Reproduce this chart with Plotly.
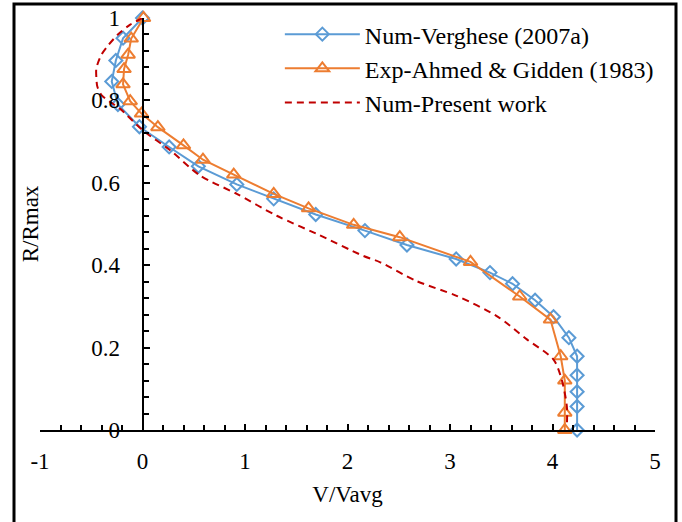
import plotly.graph_objects as go

# Num-Verghese (2007a)
verg_v = [0, -0.19, -0.26, -0.30, -0.24, -0.03, 0.26, 0.545, 0.92, 1.28, 1.69, 2.17, 2.58,
          3.06, 3.39, 3.61, 3.83, 4.01, 4.16, 4.24, 4.24, 4.24, 4.24, 4.24]
verg_r = [1.0, 0.951, 0.897, 0.846, 0.79, 0.736, 0.687, 0.640, 0.596, 0.561, 0.523, 0.484, 0.449,
          0.415, 0.382, 0.355, 0.315, 0.275, 0.224, 0.179, 0.133, 0.093, 0.057, 0.0]

# Exp-Ahmed & Gidden (1983)
exp_v = [0.01, -0.11, -0.14, -0.18, -0.19, -0.12, -0.01, 0.15, 0.40, 0.59, 0.89, 1.28, 1.62,
         2.06, 2.51, 3.20, 3.68, 3.98, 4.08, 4.12, 4.12, 4.12]
exp_r = [1.0, 0.95, 0.911, 0.876, 0.839, 0.798, 0.768, 0.735, 0.691, 0.656, 0.620, 0.573, 0.538,
         0.498, 0.468, 0.408, 0.324, 0.268, 0.179, 0.120, 0.042, 0.0]

# Num-Present work
pres_v = [0, -0.12, -0.24, -0.33, -0.40, -0.45, -0.45, -0.44, -0.40, -0.32, -0.22, 0.0, 0.27,
          0.56, 0.92, 1.31, 1.70, 2.15, 2.32, 2.67, 3.07, 3.46, 3.75, 4.01, 4.09, 4.14, 4.14]
pres_r = [1.0, 0.984, 0.96, 0.935, 0.911, 0.878, 0.854, 0.833, 0.813, 0.797, 0.780, 0.728, 0.679,
          0.618, 0.573, 0.520, 0.476, 0.423, 0.407, 0.362, 0.325, 0.276, 0.220, 0.171, 0.122, 0.057, 0.008]

x_ticks = [-1, 0, 1, 2, 3, 4, 5]
x_tick_text = ["-1", "0", "1", "2", "3", "4", "5"]
y_ticks = [0, 0.2, 0.4, 0.6, 0.8, 1]
y_tick_text = ["0", "0.2", "0.4", "0.6", "0.8", "1"]

FONT = "Liberation Serif"
BLUE = "#5B9BD5"
ORANGE = "#ED7D31"
RED = "#C00000"

fig = go.Figure()
fig.add_trace(go.Scatter(
    x=verg_v, y=verg_r, mode="lines+markers", name="Num-Verghese (2007a)",
    line=dict(color=BLUE, width=2),
    marker=dict(symbol="diamond-open", size=10, color=BLUE, line=dict(width=2)),
    cliponaxis=False))
fig.add_trace(go.Scatter(
    x=exp_v, y=exp_r, mode="lines+markers", name="Exp-Ahmed & Gidden (1983)",
    line=dict(color=ORANGE, width=2),
    marker=dict(symbol="triangle-up-open", size=12, color=ORANGE, line=dict(width=2)),
    cliponaxis=False))
fig.add_trace(go.Scatter(
    x=pres_v, y=pres_r, mode="lines", name="Num-Present work",
    line=dict(color=RED, width=2, dash="7px,5px", shape="spline", smoothing=0.8),
    cliponaxis=False))

fig.update_layout(
    width=682, height=522,
    margin=dict(l=40, r=27, t=18, b=92),
    paper_bgcolor="white", plot_bgcolor="white",
    font=dict(family=FONT, size=23, color="black"),
    showlegend=True,
    legend=dict(x=0.39, y=1.0145, xanchor="left", yanchor="top",
                bgcolor="rgba(0,0,0,0)", itemwidth=75,
                font=dict(family=FONT, size=24), tracegroupgap=0),
    xaxis=dict(range=[-1, 5], tickvals=x_ticks, ticktext=x_tick_text,
               showgrid=False, zeroline=False, automargin=False,
               showline=True, linecolor="black", linewidth=2,
               ticks="inside", ticklen=6, tickwidth=2, tickcolor="black",
               minor=dict(dtick=0.2, ticks="inside", ticklen=5, tickwidth=2, tickcolor="black"),
               ticklabelstandoff=9,
               title=dict(text="V/Vavg", standoff=13, font=dict(size=23))),
    yaxis=dict(range=[0, 1], tickvals=y_ticks, ticktext=y_tick_text, showgrid=False, zeroline=False,
               anchor="free", position=1/6, automargin=False,
               showline=True, linecolor="black", linewidth=2,
               ticks="inside", ticklen=6, tickwidth=2, tickcolor="black",
               minor=dict(dtick=0.04, ticks="inside", ticklen=5, tickwidth=2, tickcolor="black"),
               ticklabelstandoff=17,
               title=dict(text="R/Rmax", standoff=45, font=dict(size=23))),
)

# outer chart-area border
fig.add_shape(type="rect", xref="paper", yref="paper",
              x0=-26/615, x1=636/615, y0=-110/412, y1=426/412,
              line=dict(color="black", width=3), fillcolor="rgba(0,0,0,0)", layer="below")

fig.write_html("out.html")
